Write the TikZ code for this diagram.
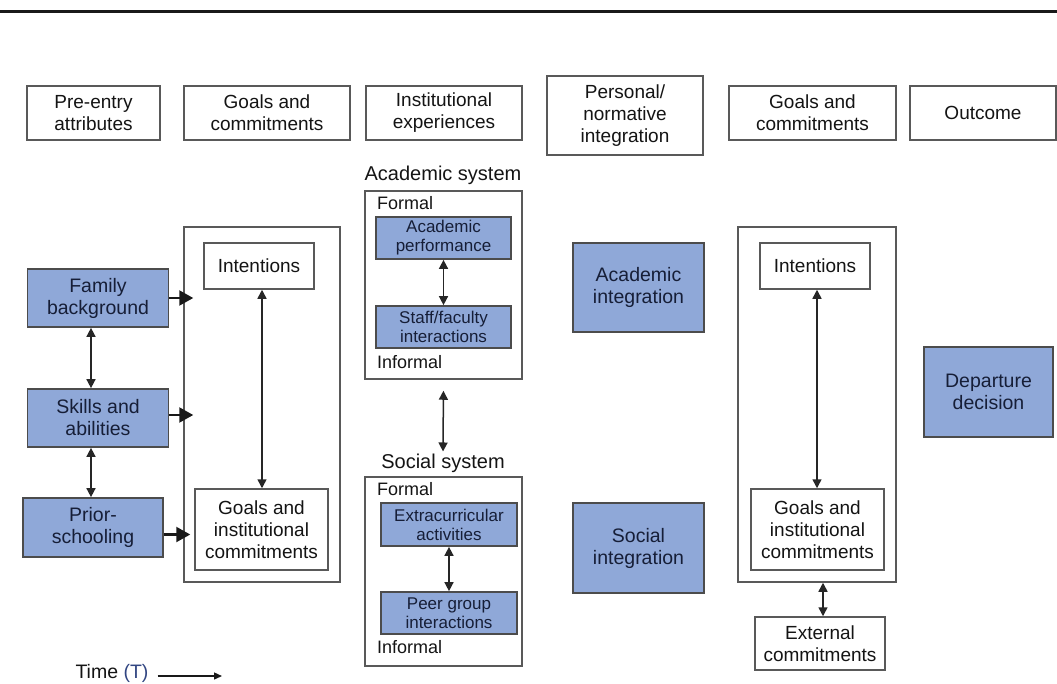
\documentclass[tikz,border=0pt]{standalone}
\usepackage{fontspec}
\setmainfont{Liberation Sans}
\usetikzlibrary{arrows.meta,calc}
\definecolor{boxblue}{RGB}{143,168,216}
\definecolor{navy}{RGB}{22,30,55}
\definecolor{tblue}{RGB}{50,70,130}
\begin{document}
\begin{tikzpicture}[x=1pt,y=-1pt,
  hdr/.style={draw=black!65, line width=1.5pt, fill=white, align=center,
    font=\fontsize{19}{22}\selectfont, text=black!92, inner sep=0pt},
  bluebox/.style={draw=black!70, line width=1.7pt, fill=boxblue, align=center,
    font=\fontsize{19.5}{22}\selectfont, text=navy, inner sep=0pt},
  smallblue/.style={bluebox, font=\fontsize{17}{19}\selectfont},
  frame/.style={draw=black!65, line width=1.5pt, inner sep=0pt},
  lbl/.style={font=\fontsize{18}{20}\selectfont, text=black!92, inner sep=0pt},
  syslbl/.style={font=\fontsize{20}{22}\selectfont, text=black!92, inner sep=0pt},
  bigarrow/.style={-{Triangle[length=14pt,width=15pt]}, line width=2.2pt, black!90},
  dbl/.style={{Triangle[length=9pt,width=9pt]}-{Triangle[length=9pt,width=9pt]}, line width=1.5pt, black!85},
]
\useasboundingbox (0,0) rectangle (1057,683);
\coordinate (tl) at (0,11);
\coordinate (tr) at (1057,11);
\draw[line width=3pt, black!90] (tl) -- (tr);

% headers
\node[hdr, minimum width=133pt, minimum height=54pt] (h1) at (93.5,113) {Pre-entry\\attributes};
\node[hdr, minimum width=166pt, minimum height=54pt] (h2) at (267,113) {Goals and\\commitments};
\node[hdr, minimum width=156pt, minimum height=54pt] (h3) at (444,113) {Institutional\\experiences};
\node[hdr, minimum width=156pt, minimum height=79pt] (h4) at (625,115.5) {Personal/\\normative\\integration};
\node[hdr, minimum width=167pt, minimum height=54pt] (h5) at (812.5,113) {Goals and\\commitments};
\node[hdr, minimum width=146pt, minimum height=54pt] (h6) at (983,113) {Outcome};

% left column
\node[bluebox, minimum width=141pt, minimum height=58pt] (fam) at (98,298) {Family\\background};
\node[bluebox, minimum width=141pt, minimum height=58pt] (skills) at (98,418) {Skills and\\abilities};
\node[bluebox, minimum width=140pt, minimum height=59pt] (prior) at (93,527.5) {Prior-\\schooling};

\node[frame, minimum width=156pt, minimum height=355pt] (bigL) at (262,404.5) {};
\node[hdr, minimum width=110pt, minimum height=46pt] (intL) at (259,266) {Intentions};
\node[hdr, minimum width=133pt, minimum height=81pt] (goalL) at (261.5,529.5) {Goals and\\institutional\\commitments};

\draw[bigarrow] (fam.east) -- ($(fam.east -| bigL.west)+(10,0)$);
\draw[bigarrow] ($(skills.east)+(0,-3)$) -- ($(skills.east -| bigL.west)+(10,-3)$);
\draw[bigarrow] ($(prior.east)+(0,7)$) -- ($(prior.east -| bigL.west)+(7,7)$);
\draw[dbl] ($(fam.south)+(-7,0)$) -- ($(skills.north)+(-7,0)$);
\draw[dbl] ($(skills.south)+(-7,0)$) -- ($(prior.north)+(-2,0)$);
\draw[dbl] ($(intL.south)+(3,0)$) -- ($(goalL.north)+(0.5,0)$);

% academic system
\node[syslbl] (acsys) at (443,175) {Academic system};
\node[frame, minimum width=157pt, minimum height=188pt] (acbox) at (443.5,285) {};
\node[lbl, anchor=west] (acformal) at (377,203) {Formal};
\node[lbl, anchor=west] (acinformal) at (377,362) {Informal};
\node[smallblue, minimum width=135pt, minimum height=42pt] (acperf) at (443.5,238) {Academic\\performance};
\node[smallblue, minimum width=135pt, minimum height=42pt] (staff) at (443.5,327) {Staff/faculty\\interactions};
\draw[dbl] (acperf.south) -- (staff.north);

% social system
\node[syslbl] (socsys) at (443,463) {Social system};
\node[frame, minimum width=157pt, minimum height=189pt] (socbox) at (443.5,571.5) {};
\node[lbl, anchor=west] (soformal) at (377,489) {Formal};
\node[lbl, anchor=west] (soinformal) at (377,647) {Informal};
\node[smallblue, minimum width=136pt, minimum height=43pt] (extra) at (449,524.5) {Extracurricular\\activities};
\node[smallblue, minimum width=136pt, minimum height=42pt] (peer) at (449,613) {Peer group\\interactions};
\draw[dbl] (extra.south) -- (peer.north);

\draw[dbl, shorten <=11pt, shorten >=2pt] (acbox.south) -- (socsys.north);

% integration
\node[bluebox, minimum width=131pt, minimum height=89pt] (acint) at (638.5,287.5) {Academic\\integration};
\node[bluebox, minimum width=131pt, minimum height=90pt] (soint) at (638.5,548) {Social\\integration};

% right column
\node[frame, minimum width=158pt, minimum height=355pt] (bigR) at (817,404.5) {};
\node[hdr, minimum width=110pt, minimum height=46pt] (intR) at (815,266) {Intentions};
\node[hdr, minimum width=133pt, minimum height=81pt] (goalR) at (817.5,529.5) {Goals and\\institutional\\commitments};
\draw[dbl] ($(intR.south)+(2,0)$) -- ($(goalR.north)+(-0.5,0)$);
\node[hdr, minimum width=130pt, minimum height=53pt] (ext) at (820,643.5) {External\\commitments};
\draw[dbl] ($(bigR.south)+(6,0)$) -- ($(ext.north)+(3,0)$);

\node[bluebox, minimum width=129pt, minimum height=90pt] (dep) at (988.5,392) {Departure\\decision};

% time
\node[font=\fontsize{19.5}{22}\selectfont, text=black!92, inner sep=0pt] (time) at (112,673) {Time {\color{tblue}(T)}};
\coordinate (tend) at (222,676);
\draw[-{Triangle[length=8pt,width=7pt]}, line width=1.4pt, black!90] (time.east |- tend) ++(9,0) -- (tend);
\end{tikzpicture}
\end{document}
